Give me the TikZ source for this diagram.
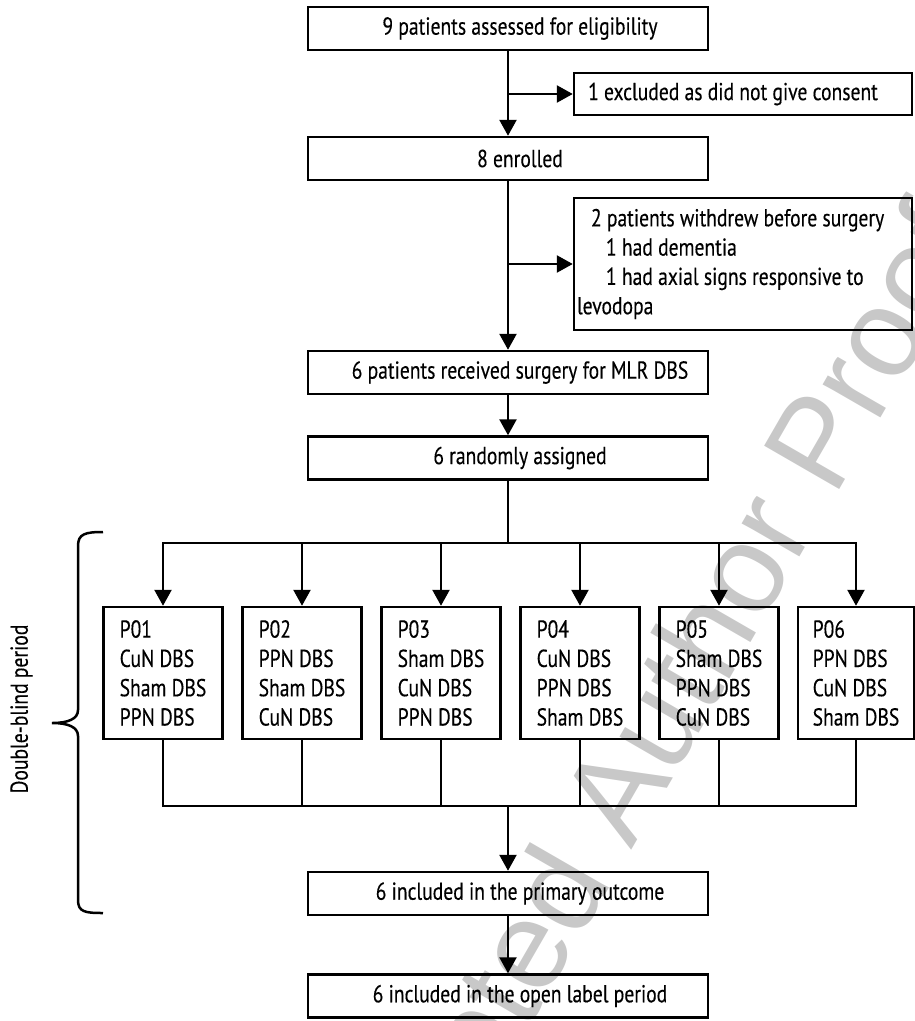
\documentclass[tikz,border=0pt]{standalone}
\usepackage{fontspec}
\setmainfont{PT Sans}[FakeStretch=0.8,FakeBold=0.3]
\newfontfamily\wmfont{Liberation Sans}
\usetikzlibrary{arrows.meta}
\definecolor{wmgray}{RGB}{200,200,200}
\tikzset{
  txt/.style={font=\fontsize{24.5pt}{29.3pt}\selectfont},
  box/.style={txt, draw, line width=2.5pt, minimum width=400pt, minimum height=43pt, inner sep=0pt},
  sidebox/.style={txt, draw, line width=2.5pt, minimum width=338pt, inner sep=0pt},
  pbox/.style={txt, draw, line width=2.5pt, minimum width=119pt, minimum height=132pt, inner sep=0pt, align=left},
  arr/.style={line width=2.5pt, -{Triangle[length=16pt,width=17pt]}},
  ln/.style={line width=2.5pt},
  wmark/.style={text=wmgray, rotate=60, font=\wmfont\fontsize{126pt}{126pt}\selectfont, inner sep=0pt}
}
\begin{document}
\begin{tikzpicture}[x=1pt,y=-1pt]
\useasboundingbox (0,0) rectangle (915,1021);
% watermark
\node[wmark] (wm) at (640,770) {Accepted Author Proof};
% main column
\node[box] (b1) at (508,28.5) {\hspace*{24pt}9 patients assessed for eligibility};
\node[sidebox, minimum height=42pt] (ex) at (743,94) {1 excluded as did not give consent\hspace*{20pt}};
\node[box] (b2) at (508,158.5) {\hspace*{24pt}8 enrolled};
\node[sidebox, minimum height=132pt, text width=332pt, align=flush left, inner xsep=3pt] (wd) at (743,264)
  {\hspace*{14pt}2 patients withdrew before surgery\\\hspace*{29pt}1 had dementia\\\hspace*{29pt}1 had axial signs responsive to\\levodopa};
\node[box] (b3) at (508,372.5) {\hspace*{24pt}6 patients received surgery for MLR DBS};
\node[box] (b4) at (508,458) {\hspace*{24pt}6 randomly assigned};
% patient boxes
\node[pbox] (p1) at (163,673) {P01\\CuN DBS\\Sham DBS\\PPN DBS};
\node[pbox] (p2) at (302,673) {P02\\PPN DBS\\Sham DBS\\CuN DBS};
\node[pbox] (p3) at (441,673) {P03\\Sham DBS\\CuN DBS\\PPN DBS};
\node[pbox] (p4) at (580,673) {P04\\CuN DBS\\PPN DBS\\Sham DBS};
\node[pbox] (p5) at (719,673) {P05\\Sham DBS\\PPN DBS\\CuN DBS};
\node[pbox, minimum width=116pt] (p6) at (856,673) {P06\\PPN DBS\\CuN DBS\\Sham DBS};
\node[box] (b5) at (508,893.5) {\hspace*{24pt}6 included in the primary outcome};
\node[box] (b6) at (508,996) {\hspace*{24pt}6 included in the open label period};
% connectors
\draw[arr] (b1) -- (b2);
\coordinate (j1) at (b1.south |- ex.west);
\draw[arr] (j1) -- (ex);
\draw[arr] (b2) -- (b3);
\coordinate (j2) at (b2.south |- wd.west);
\draw[arr] (j2) -- (wd);
\draw[arr] (b3) -- (b4);
\coordinate (split) at (508,543);
\draw[ln] (b4) -- (split);
\foreach \p in {p1,p2,p3,p4,p5,p6} \draw[arr] (split) -| (\p.north);
\coordinate (merge) at (508,806);
\foreach \p in {p1,p2,p3,p4,p5,p6} \draw[ln] (\p.south) |- (merge);
\draw[arr] (merge) -- (b5);
\draw[arr] (b5) -- (b6);
% brace and label
\draw[ln] (103,532) .. controls (85,532) and (78,534) .. (78,546) -- (78,710)
  .. controls (78,719) and (68,723) .. (52,723)
  .. controls (68,723) and (78,727) .. (78,736) -- (78,900)
  .. controls (78,912) and (85,913) .. (103,913);
\node[txt, rotate=90, inner sep=0pt] (dbp) at (21.5,709) {Double-blind period};
\end{tikzpicture}
\end{document}
